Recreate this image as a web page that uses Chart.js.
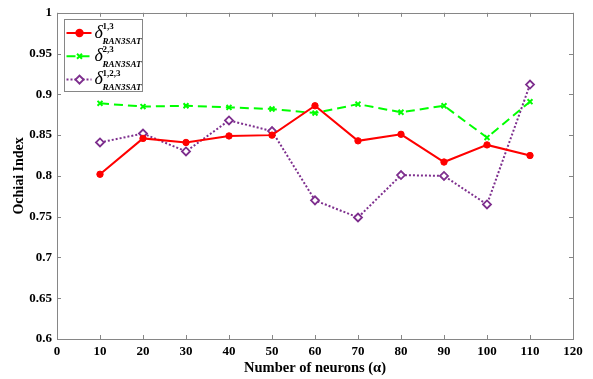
<!DOCTYPE html>
<html>
<head>
<meta charset="utf-8">
<script src="https://cdn.jsdelivr.net/npm/chart.js@4.4.1/dist/chart.umd.min.js"></script>
<style>
  html, body { margin: 0; padding: 0; background: #fff; }
</style>
</head>
<body>
<canvas id="ochiaiChart" width="593" height="379"></canvas>
<script>
// values
const neurons = [10, 20, 30, 40, 50, 60, 70, 80, 90, 100, 110];
const delta13 = [0.802, 0.846, 0.841, 0.849, 0.850, 0.886, 0.843, 0.851, 0.817, 0.838, 0.825];
const delta23 = [0.889, 0.885, 0.886, 0.884, 0.882, 0.877, 0.888, 0.878, 0.886, 0.847, 0.891];
const delta123 = [0.841, 0.852, 0.830, 0.868, 0.855, 0.770, 0.749, 0.801, 0.800, 0.765, 0.912];
const xTicks = [0, 10, 20, 30, 40, 50, 60, 70, 80, 90, 100, 110, 120];
const yTicks = [0.6, 0.65, 0.7, 0.75, 0.8, 0.85, 0.9, 0.95, 1];
const seriesSup = ['1,3', '2,3', '1,2,3'];
const seriesSub = 'RAN3SAT';

const SERIF = '"Liberation Serif", "Times New Roman", serif';
const AXIS_GRAY = '#868686';

const toPoints = (vals) => vals.map((v, i) => ({ x: neurons[i], y: v }));

// MATLAB-style box with inward ticks on all four sides
const axesBox = {
  id: 'axesBox',
  afterDatasetsDraw(chart) {
    const { ctx, chartArea: a, scales } = chart;
    const tl = 4;
    ctx.save();
    ctx.strokeStyle = AXIS_GRAY;
    ctx.lineWidth = 1;
    ctx.beginPath();
    xTicks.forEach(v => {
      const px = Math.round(scales.x.getPixelForValue(v)) + 0.5;
      ctx.moveTo(px, a.bottom); ctx.lineTo(px, a.bottom - tl);
      ctx.moveTo(px, a.top); ctx.lineTo(px, a.top + tl);
    });
    yTicks.forEach(v => {
      const py = Math.round(scales.y.getPixelForValue(v)) + 0.5;
      ctx.moveTo(a.left, py); ctx.lineTo(a.left + tl, py);
      ctx.moveTo(a.right, py); ctx.lineTo(a.right - tl, py);
    });
    ctx.stroke();
    ctx.strokeRect(Math.round(a.left) + 0.5, Math.round(a.top) + 0.5,
      Math.round(a.right - a.left), Math.round(a.bottom - a.top));
    ctx.restore();
  }
};

// legend with delta^{sup}_{sub} labels
const deltaLegend = {
  id: 'deltaLegend',
  afterDraw(chart) {
    const { ctx, chartArea: a } = chart;
    const x0 = Math.round(a.left) + 7.5, y0 = Math.round(a.top) + 6.5;
    const w = 78, h = 72;
    ctx.save();
    ctx.fillStyle = '#fff';
    ctx.fillRect(x0, y0, w, h);
    ctx.strokeStyle = AXIS_GRAY;
    ctx.lineWidth = 1;
    ctx.strokeRect(x0, y0, w, h);

    chart.data.datasets.forEach((ds, i) => {
      const y = y0 + 13.5 + i * 23.3;
      ctx.strokeStyle = ds.borderColor;
      ctx.lineWidth = ds.borderWidth;
      ctx.setLineDash(ds.borderDash || []);
      ctx.beginPath();
      ctx.moveTo(x0 + 2, y);
      ctx.lineTo(x0 + 27, y);
      ctx.stroke();
      ctx.setLineDash([]);

      ctx.fillStyle = ds.pointBackgroundColor;
      ctx.strokeStyle = ds.pointBorderColor;
      Chart.helpers.drawPoint(ctx, {
        pointStyle: ds.pointStyle,
        radius: ds.pointRadius,
        borderWidth: ds.pointBorderWidth,
        rotation: 0
      }, x0 + 15, y);

      ctx.fillStyle = '#000';
      ctx.textBaseline = 'alphabetic';
      ctx.textAlign = 'left';
      ctx.font = 'italic 18px ' + SERIF;
      ctx.fillText('\u03B4', x0 + 30, y + 4.5);
      ctx.font = 'bold 9px ' + SERIF;
      ctx.fillText(seriesSup[i], x0 + 38, y - 4);
      ctx.font = 'italic bold 9px ' + SERIF;
      ctx.fillText(seriesSub, x0 + 38, y + 10.5);
    });
    ctx.restore();
  }
};

new Chart(document.getElementById('ochiaiChart'), {
  type: 'line',
  data: {
    datasets: [
      {
        label: 'delta13',
        data: toPoints(delta13),
        borderColor: '#FF0000',
        borderWidth: 2,
        pointStyle: 'circle',
        pointRadius: 3.2,
        pointBackgroundColor: '#FF0000',
        pointBorderColor: '#FF0000',
        pointBorderWidth: 1
      },
      {
        label: 'delta23',
        data: toPoints(delta23),
        borderColor: '#00FF00',
        borderWidth: 2,
        borderDash: [9, 5],
        pointStyle: 'crossRot',
        pointRadius: 3.5,
        pointBackgroundColor: '#00FF00',
        pointBorderColor: '#00FF00',
        pointBorderWidth: 2
      },
      {
        label: 'delta123',
        data: toPoints(delta123),
        borderColor: '#7E2F8E',
        borderWidth: 2,
        borderDash: [2, 2],
        pointStyle: 'rectRot',
        pointRadius: 4,
        pointBackgroundColor: '#FFFFFF',
        pointBorderColor: '#7E2F8E',
        pointBorderWidth: 1.8
      }
    ]
  },
  options: {
    responsive: false,
    animation: false,
    layout: { padding: { top: 12, right: 20, left: 0, bottom: 0 } },
    plugins: {
      legend: { display: false },
      tooltip: { enabled: false }
    },
    scales: {
      x: {
        type: 'linear',
        min: 0,
        max: 120,
        grid: { display: false, drawTicks: false, tickLength: 0 },
        border: { display: false },
        afterFit: (s) => { s.height = 40; },
        afterBuildTicks: (s) => { s.ticks = xTicks.map(v => ({ value: v })); },
        ticks: {
          autoSkip: false,
          maxRotation: 0,
          padding: 5,
          color: '#000',
          font: { family: SERIF, size: 13, weight: 'bold' }
        },
        title: {
          display: true,
          text: 'Number of neurons (\u03B1)',
          color: '#000',
          padding: { top: 0, bottom: 2 },
          font: { family: SERIF, size: 14.5, weight: 'bold' }
        }
      },
      y: {
        min: 0.6,
        max: 1,
        grid: { display: false, drawTicks: false, tickLength: 0 },
        border: { display: false },
        afterFit: (s) => { s.width = 57; },
        afterBuildTicks: (s) => { s.ticks = yTicks.map(v => ({ value: v })); },
        ticks: {
          padding: 5,
          color: '#000',
          font: { family: SERIF, size: 13, weight: 'bold' },
          callback: (v) => String(Number(v.toFixed(2)))
        },
        title: {
          display: true,
          text: 'Ochiai Index',
          color: '#000',
          padding: { top: 11, bottom: 0 },
          font: { family: SERIF, size: 14, weight: 'bold' }
        }
      }
    }
  },
  plugins: [axesBox, deltaLegend]
});
</script>
</body>
</html>
